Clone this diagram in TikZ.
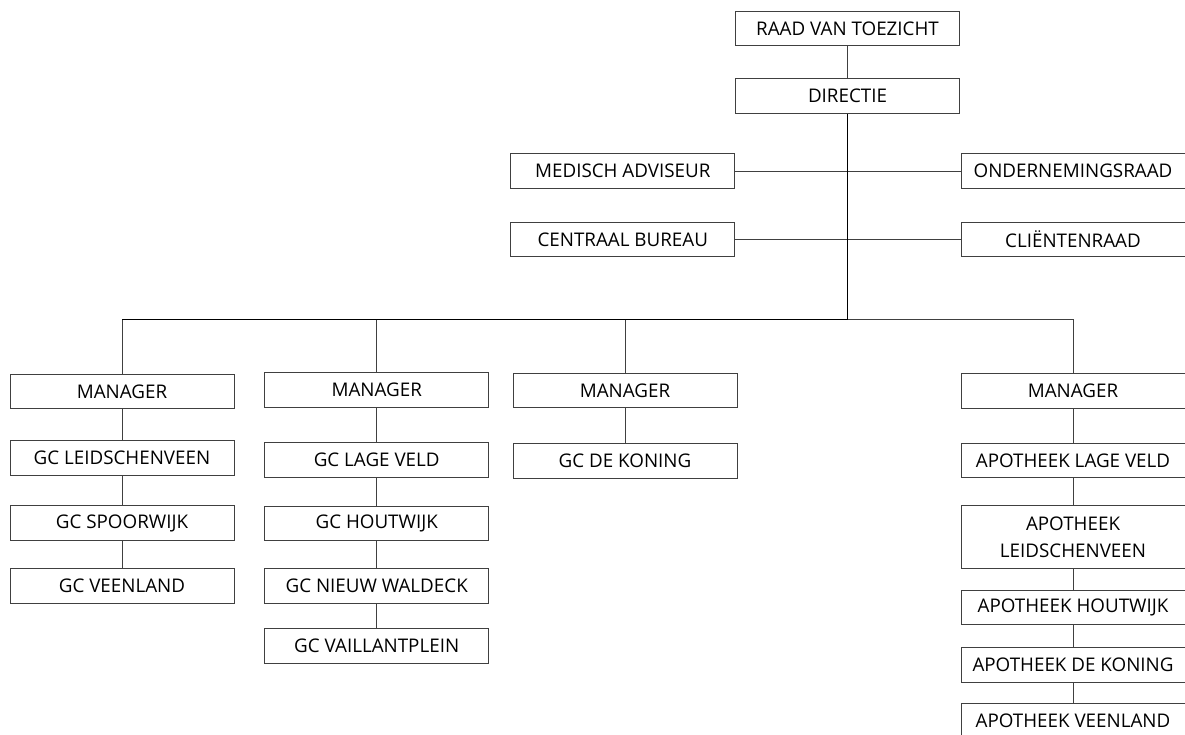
\documentclass[tikz,border=0pt]{standalone}
\usepackage{fontspec}
\setmainfont{Open Sans}
\begin{document}
\begin{tikzpicture}[x=1pt,y=-1pt,
  box/.style={draw=black!75, line width=0.8pt, fill=white, minimum width=224pt, minimum height=34.5pt, inner sep=0pt, align=center, font=\fontsize{18.8}{27}\selectfont, text=black},
  link/.style={draw=black!75, line width=0.8pt},
  spine/.style={draw=black, line width=1.6pt}]
\useasboundingbox (0,0) rectangle (1185,734);
\node[box] (raad) at (847.5,28.5) {RAAD VAN TOEZICHT};
\node[box] (dir) at (847.5,96) {DIRECTIE};
\node[box] (med) at (622.75,171) {MEDISCH ADVISEUR};
\node[box] (cen) at (622.75,239.5) {CENTRAAL BUREAU};
\node[box] (ond) at (1073,171) {ONDERNEMINGSRAAD};
\node[box] (cli) at (1073,239.5) {CLIËNTENRAAD};
\coordinate (bus) at (847.5,319.5);
\node[box] (m1) at (122,391.5) {MANAGER};
\node[box] (m2) at (376.7,390) {MANAGER};
\node[box] (m3) at (625,390.5) {MANAGER};
\node[box] (m4) at (1073,391) {MANAGER};
\node[box] (gleid) at (122,457.7) {GC LEIDSCHENVEEN};
\node[box] (gspoor) at (122,523) {GC SPOORWIJK};
\node[box] (gveen) at (122,585.8) {GC VEENLAND};
\node[box] (glage) at (376.7,460) {GC LAGE VELD};
\node[box] (ghout) at (376.7,523.5) {GC HOUTWIJK};
\node[box] (gnieuw) at (376.7,585.8) {GC NIEUW WALDECK};
\node[box] (gvail) at (376.7,645.8) {GC VAILLANTPLEIN};
\node[box] (gdek) at (625,460.8) {GC DE KONING};
\node[box] (alage) at (1073,460.5) {APOTHEEK LAGE VELD};
\node[box, minimum height=62.6pt] (aleid) at (1073,537) {APOTHEEK\\LEIDSCHENVEEN};
\node[box] (ahout) at (1073,607.5) {APOTHEEK HOUTWIJK};
\node[box] (adek) at (1073,665) {APOTHEEK DE KONING};
\node[box] (aveen) at (1073,720.8) {APOTHEEK VEENLAND};
% connectors
\draw[link] (raad) -- (dir);
\draw[link] (med.east) -- (ond.west);
\draw[link] (cen.east) -- (cli.west);
\draw[spine] (dir.south) -- (bus) -- (bus -| m1.north);
\draw[link] (bus -| m1.north) -- (m1.north);
\draw[link] (bus) -- (bus -| m4.north) -- (m4.north);
\draw[link] (bus -| m2.north) -- (m2.north);
\draw[link] (bus -| m3.north) -- (m3.north);
\draw[link] (m1) -- (gleid);
\draw[link] (gleid) -- (gspoor);
\draw[link] (gspoor) -- (gveen);
\draw[link] (m2) -- (glage);
\draw[link] (glage) -- (ghout);
\draw[link] (ghout) -- (gnieuw);
\draw[link] (gnieuw) -- (gvail);
\draw[link] (m3) -- (gdek);
\draw[link] (m4) -- (alage);
\draw[link] (alage) -- (aleid);
\draw[link] (aleid) -- (ahout);
\draw[link] (ahout) -- (adek);
\draw[link] (adek) -- (aveen);
\end{tikzpicture}
\end{document}
